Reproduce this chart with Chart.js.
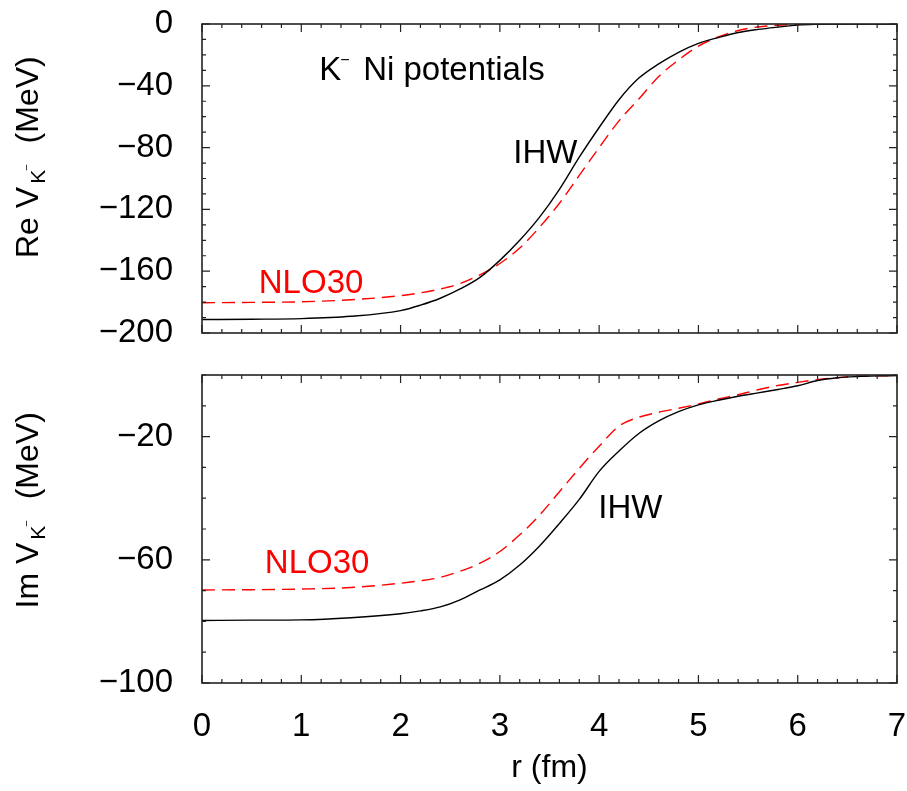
<!DOCTYPE html>
<html>
<head>
<meta charset="utf-8">
<script src="https://cdn.jsdelivr.net/npm/chart.js@4.4.1/dist/chart.umd.min.js"></script>
<style>
  html, body { margin: 0; padding: 0; background: #fff; }
  #wrap { position: relative; width: 907px; height: 791px; }
  #reChart { position: absolute; left: 0; top: 0; }
  #imChart { position: absolute; left: 0; top: 355px; }
</style>
</head>
<body>
<div id="wrap">
  <canvas id="reChart" width="907" height="355"></canvas>
  <canvas id="imChart" width="907" height="436"></canvas>
</div>
<script>
// r in fm
const radius = [0, 0.5, 1.0, 1.5, 2.0, 2.2, 2.4, 2.6, 2.8, 3.0, 3.2, 3.4, 3.6, 3.8, 4.0,
                4.2, 4.4, 4.6, 4.8, 5.0, 5.2, 5.4, 5.6, 5.8, 6.0, 6.2, 6.4, 6.6, 6.8, 7.0];

// Re V (MeV)
const reIHW = [-191.3, -191.1, -190.7, -189.2, -185.5, -182.0, -177.5, -171.5, -164.0, -153.0,
               -140.0, -125.0, -107.0, -86.2, -67.0, -49.0, -35.0, -25.8, -18.3, -12.5,
               -8.8, -5.5, -3.5, -2.0, -0.7, -0.2, 0, 0, 0, 0];
const reNLO30 = [-180.4, -180.2, -179.8, -178.5, -175.8, -174.0, -171.5, -168.0, -162.3, -155.0,
                 -145.0, -131.5, -116.0, -98.0, -80.0, -62.7, -48.5, -34.0, -23.2, -14.3,
                 -8.3, -4.2, -1.9, -0.8, -0.2, 0, 0, 0, 0, 0];

// Im V (MeV)
const imIHW = [-79.7, -79.6, -79.5, -78.8, -77.5, -76.6, -75.3, -73.0, -69.8, -66.5,
               -61.7, -55.5, -48.2, -40.4, -31.3, -24.7, -19.0, -14.9, -11.9, -9.7,
               -8.2, -6.9, -5.8, -4.7, -3.5, -1.8, -0.9, -0.5, -0.3, -0.2];
const imNLO30 = [-69.8, -69.7, -69.5, -69.0, -67.6, -66.8, -65.7, -63.7, -61.1, -57.3,
                 -51.9, -45.5, -37.9, -30.3, -23.1, -16.6, -13.7, -12.1, -10.8, -9.4,
                 -7.8, -6.4, -4.8, -3.4, -2.4, -1.5, -0.9, -0.4, -0.3, -0.2];

const xTicks = [0, 1, 2, 3, 4, 5, 6, 7];
const reTicks = [0, -40, -80, -120, -160, -200];
const imTicks = [-20, -60, -100];

const FONT = '"Liberation Sans", Arial, sans-serif';
Chart.defaults.font.family = FONT;
Chart.defaults.color = '#000';

function pts(ys) {
  return radius.map((r, i) => ({ x: r, y: ys[i] }));
}
function minusLabel(v) {
  return v < 0 ? '\u2212' + Math.abs(v) : String(v);
}
// stop the scales from pushing the plot area around
function noPad(s) {
  s.paddingTop = 0; s.paddingBottom = 0; s.paddingLeft = 0; s.paddingRight = 0;
}

// frame with inward ticks on all four sides
const framePlugin = {
  id: 'frame',
  afterDatasetsDraw(chart, args, o) {
    const { ctx, chartArea: a, scales: { x, y } } = chart;
    ctx.save();
    ctx.strokeStyle = '#222';
    ctx.lineWidth = 1.2;
    ctx.beginPath();
    for (let i = 0; i <= 35; i++) {
      const v = i / 5;
      const px = x.getPixelForValue(v);
      const L = i % 5 === 0 ? 8 : 4;
      ctx.moveTo(px, a.bottom); ctx.lineTo(px, a.bottom - L);
      ctx.moveTo(px, a.top); ctx.lineTo(px, a.top + L);
    }
    for (let v = y.min; v <= y.max; v += 10) {
      const py = y.getPixelForValue(v);
      const L = o.majors.includes(v) ? 8 : 4;
      ctx.moveTo(a.left, py); ctx.lineTo(a.left + L, py);
      ctx.moveTo(a.right, py); ctx.lineTo(a.right - L, py);
    }
    ctx.stroke();
    ctx.lineWidth = 1.6;
    ctx.strokeRect(a.left, a.top, a.right - a.left, a.bottom - a.top);
    ctx.restore();
  }
};

// rotated y title with subscript K and superscript minus, plus in-plot labels
const textPlugin = {
  id: 'texts',
  afterDraw(chart, args, o) {
    const { ctx, chartArea: a, scales: { x, y } } = chart;
    ctx.save();
    const cy = (a.top + a.bottom) / 2 + 79.5;
    ctx.translate(38, cy);
    ctx.rotate(-Math.PI / 2);
    ctx.fillStyle = '#000';
    ctx.textBaseline = 'alphabetic';
    ctx.textAlign = 'left';
    ctx.font = '32px ' + FONT;
    ctx.fillText(o.lead, 0, 0);
    let cx = ctx.measureText(o.lead).width + 3;
    ctx.font = '21px ' + FONT;
    ctx.fillText('K', cx, 7);
    cx += ctx.measureText('K').width;
    ctx.font = '11px ' + FONT;
    ctx.fillText('\u2212', cx - 1, -8);
    cx += ctx.measureText('\u2212').width + 20;
    ctx.font = '32px ' + FONT;
    ctx.fillText('(MeV)', cx, 0);
    ctx.restore();

    ctx.save();
    ctx.textBaseline = 'alphabetic';
    ctx.textAlign = 'left';
    o.notes.forEach(n => {
      const px = x.getPixelForValue(n.r);
      const py = y.getPixelForValue(n.v);
      ctx.fillStyle = n.color;
      ctx.font = '33px ' + FONT;
      ctx.fillText(n.text, px, py);
      if (n.sup) {
        const w = ctx.measureText(n.text).width;
        ctx.font = '16px ' + FONT;
        ctx.fillText('\u2212', px + w - 1, py - 15);
        ctx.font = '33px ' + FONT;
        ctx.fillText(n.rest, px + w + 22, py);
      }
    });
    ctx.restore();
  }
};

function makePanel(id, ihw, nlo, yMin, yTicks, lead, notes, showX) {
  return new Chart(document.getElementById(id), {
    type: 'line',
    data: {
      datasets: [
        { label: 'IHW', data: pts(ihw), borderColor: '#000', borderWidth: 1.4,
          pointRadius: 0, fill: false, cubicInterpolationMode: 'monotone' },
        { label: 'NLO30', data: pts(nlo), borderColor: 'rgb(255,0,0)', borderWidth: 1.4,
          borderDash: [13, 7], pointRadius: 0, fill: false, cubicInterpolationMode: 'monotone' }
      ]
    },
    options: {
      responsive: false,
      animation: false,
      layout: { autoPadding: false, padding: { top: showX ? 20 : 24, right: 10, left: 0, bottom: 0 } },
      plugins: {
        legend: { display: false },
        tooltip: { enabled: false },
        frame: { majors: yTicks },
        texts: { lead: lead, notes: notes }
      },
      scales: {
        x: {
          type: 'linear', min: 0, max: 7,
          grid: { display: false }, border: { display: false },
          afterBuildTicks: s => { s.ticks = xTicks.map(v => ({ value: v })); },
          ticks: { display: showX, padding: 16, font: { size: 33 }, color: '#000', maxRotation: 0, autoSkip: false },
          title: { display: showX, text: 'r (fm)', font: { size: 32 }, color: '#000', padding: { top: 0, bottom: 4 } },
          afterFit: s => { s.height = showX ? 108 : 22; noPad(s); }
        },
        y: {
          type: 'linear', min: yMin, max: 0,
          grid: { display: false, drawTicks: false }, border: { display: false },
          afterBuildTicks: s => { s.ticks = yTicks.map(v => ({ value: v })); },
          ticks: { padding: 29, font: { size: 33 }, color: '#000', callback: minusLabel, autoSkip: false },
          afterFit: s => { s.width = 202; noPad(s); }
        }
      }
    },
    plugins: [framePlugin, textPlugin]
  });
}

makePanel('reChart', reIHW, reNLO30, -200, reTicks, 'Re V', [
  { text: 'K', sup: true, rest: 'Ni potentials', r: 1.18, v: -36.2, color: '#000' },
  { text: 'IHW', r: 3.135, v: -90.2, color: '#000' },
  { text: 'NLO30', r: 0.572, v: -174.3, color: 'rgb(255,0,0)' }
], false);

makePanel('imChart', imIHW, imNLO30, -100, imTicks, 'Im V', [
  { text: 'NLO30', r: 0.633, v: -64.4, color: 'rgb(255,0,0)' },
  { text: 'IHW', r: 3.992, v: -46.4, color: '#000' }
], true);
</script>
</body>
</html>
